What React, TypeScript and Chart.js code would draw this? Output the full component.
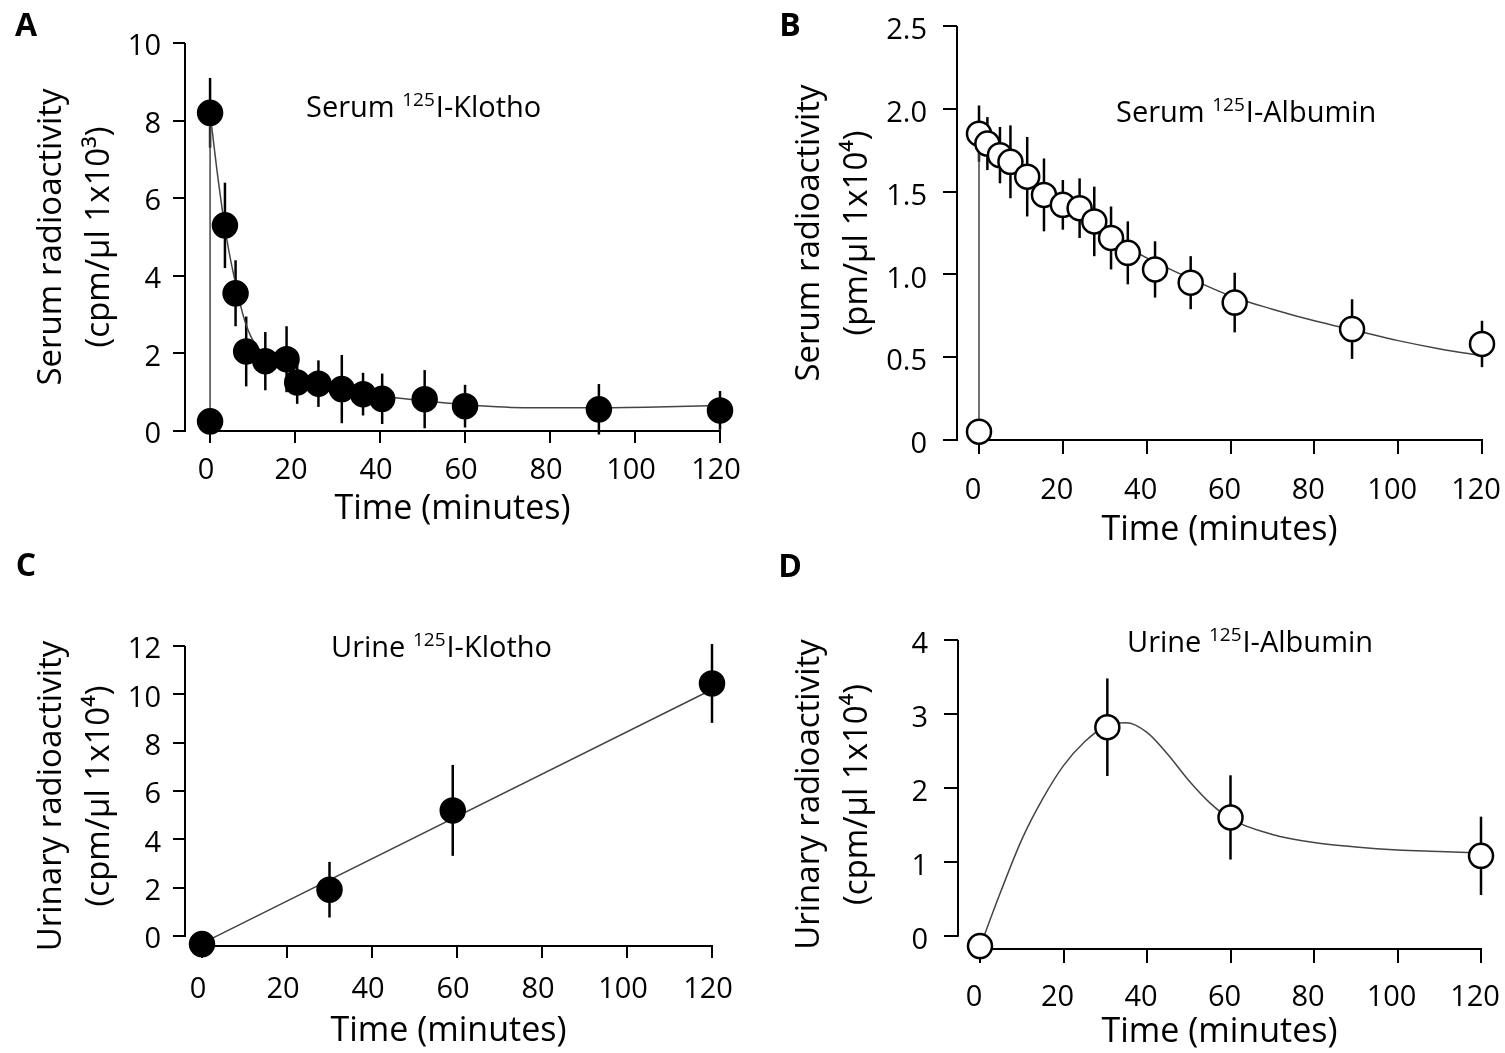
import React, { useEffect, useRef } from "react";
import { Chart, registerables } from "chart.js";

Chart.register(...registerables);

const FONT = "'Open Sans'";

// shared x ticks (minutes)
const timeTicks = [0, 20, 40, 60, 80, 100, 120];

// ---------- Panel A: Serum 125I-Klotho ----------
const timeA = [0, 0, 3.5, 6, 8.5, 13, 18, 20.5, 25.5, 31, 36, 40.5, 50.5, 60, 91.5, 120];
const serumKlotho = [0.25, 8.2, 5.3, 3.55, 2.05, 1.8, 1.85, 1.25, 1.22, 1.08, 0.95, 0.83, 0.82, 0.64, 0.56, 0.53];
const serumKlothoErr = [0, 0.9, 1.1, 0.85, 0.9, 0.75, 0.85, 0.55, 0.6, 0.88, 0.55, 0.65, 0.75, 0.55, 0.65, 0.5];
const riseTimeA = [0, 0];
const riseA = [0.25, 8.2];
const fitTimeA = [0, 2, 4, 6, 8, 10, 13, 16, 20, 25, 30, 35, 40, 50, 60, 75, 90, 105, 120];
const fitSerumKlotho = [8.2, 6.4, 4.9, 3.8, 2.9, 2.35, 1.95, 1.7, 1.45, 1.25, 1.1, 0.98, 0.9, 0.78, 0.68, 0.6, 0.6, 0.62, 0.66];
const yTicksA = [0, 2, 4, 6, 8, 10];
const yLabelsA = ["0", "2", "4", "6", "8", "10"];

// ---------- Panel B: Serum 125I-Albumin ----------
const timeB = [0, 0, 2, 5, 7.5, 11.5, 15.5, 20, 24, 27.5, 31.5, 35.5, 42, 50.5, 61, 89, 120];
const serumAlbumin = [0.05, 1.85, 1.79, 1.72, 1.68, 1.59, 1.48, 1.42, 1.4, 1.32, 1.22, 1.13, 1.03, 0.95, 0.83, 0.67, 0.58];
const serumAlbuminErr = [0, 0.17, 0.16, 0.17, 0.22, 0.24, 0.22, 0.15, 0.18, 0.21, 0.19, 0.19, 0.17, 0.16, 0.18, 0.18, 0.14];
const riseTimeB = [0, 0];
const riseB = [0.05, 1.78];
const fitTimeB = [0, 5, 10, 15, 20, 25, 30, 35, 40, 50, 60, 70, 80, 90, 100, 110, 120];
const fitSerumAlbumin = [1.78, 1.7, 1.6, 1.5, 1.42, 1.35, 1.26, 1.17, 1.1, 0.98, 0.87, 0.79, 0.72, 0.66, 0.6, 0.55, 0.51];
const yTicksB = [0, 0.5, 1, 1.5, 2, 2.5];
const yLabelsB = ["0", "0.5", "1.0", "1.5", "2.0", "2.5"];

// ---------- Panel C: Urine 125I-Klotho ----------
const timeC = [0, 30, 59, 120];
const urineKlotho = [-0.33, 1.92, 5.2, 10.45];
const urineKlothoErr = [0, 1.15, 1.88, 1.63];
const fitTimeC = [0, 120];
const fitUrineKlotho = [-0.3, 10.2];
const yTicksC = [0, 2, 4, 6, 8, 10, 12];
const yLabelsC = ["0", "2", "4", "6", "8", "10", "12"];

// ---------- Panel D: Urine 125I-Albumin ----------
const timeD = [0, 30.5, 60, 120];
const urineAlbumin = [-0.14, 2.82, 1.6, 1.08];
const urineAlbuminErr = [0, 0.66, 0.57, 0.53];
const fitTimeD = [0, 5, 10, 15, 20, 25, 30, 35, 40, 45, 50, 55, 60, 70, 80, 90, 100, 110, 120];
const fitUrineAlbumin = [-0.15, 0.6, 1.3, 1.85, 2.3, 2.62, 2.83, 2.88, 2.75, 2.45, 2.1, 1.8, 1.58, 1.37, 1.26, 1.2, 1.16, 1.14, 1.12];
const yTicksD = [0, 1, 2, 3, 4];
const yLabelsD = ["0", "1", "2", "3", "4"];

type Spec = {
  letter: string;
  letterPos: [number, number];
  annot: [string, string, string];
  annotPos: [number, number];
  yTitle: string[];
  xs: number[];
  ys: number[];
  err: number[];
  fitX: number[];
  fitY: number[];
  riseX?: number[];
  riseY?: number[];
  open: boolean;
  yTicks: number[];
  yLabels: string[];
  xMin: number;
  yMin: number;
  yMax: number;
  area: { left: number; right: number; top: number; bottom: number };
  yW: number;
  xH: number;
  yTickPad: number;
  xTickPad: number;
  tickLen: number;
  yLabelOffset: number;
  xLabelOffset: number;
};

const W = 1505;
const H = 1053;

const specs: Spec[] = [
  {
    letter: "A", letterPos: [26, 27],
    annot: ["Serum ", "125", "I-Klotho"], annotPos: [306, 109],
    yTitle: ["Serum radioactivity", "(cpm/\u00b5l 1x10\u00b3)"],
    xs: timeA, ys: serumKlotho, err: serumKlothoErr,
    fitX: fitTimeA, fitY: fitSerumKlotho, riseX: riseTimeA, riseY: riseA,
    open: false, yTicks: yTicksA, yLabels: yLabelsA,
    xMin: -5.9, yMin: 0, yMax: 10,
    area: { left: 185, right: 720, top: 43, bottom: 431 },
    yW: 185, xH: 99, yTickPad: 12, xTickPad: 10, tickLen: 12,
    yLabelOffset: 4, xLabelOffset: -4,
  },
  {
    letter: "B", letterPos: [790, 27],
    annot: ["Serum ", "125", "I-Albumin"], annotPos: [1116, 114],
    yTitle: ["Serum radioactivity", "(pm/\u00b5l 1x10\u2074)"],
    xs: timeB, ys: serumAlbumin, err: serumAlbuminErr,
    fitX: fitTimeB, fitY: fitSerumAlbumin, riseX: riseTimeB, riseY: riseB,
    open: true, yTicks: yTicksB, yLabels: yLabelsB,
    xMin: -5.25, yMin: 0, yMax: 2.5,
    area: { left: 957, right: 1482, top: 26, bottom: 440 },
    yW: 199, xH: 111, yTickPad: 16, xTickPad: 19, tickLen: 14,
    yLabelOffset: 5, xLabelOffset: -6,
  },
  {
    letter: "C", letterPos: [26, 567],
    annot: ["Urine ", "125", "I-Klotho"], annotPos: [331, 649],
    yTitle: ["Urinary radioactivity", "(cpm/\u00b5l 1x10\u2074)"],
    xs: timeC, ys: urineKlotho, err: urineKlothoErr,
    fitX: fitTimeC, fitY: fitUrineKlotho,
    open: false, yTicks: yTicksC, yLabels: yLabelsC,
    xMin: -4, yMin: -0.41, yMax: 12,
    area: { left: 185, right: 712, top: 646, bottom: 946 },
    yW: 185, xH: 106, yTickPad: 12, xTickPad: 14, tickLen: 12,
    yLabelOffset: 4, xLabelOffset: -4,
  },
  {
    letter: "D", letterPos: [790, 568],
    annot: ["Urine ", "125", "I-Albumin"], annotPos: [1127, 644],
    yTitle: ["Urinary radioactivity", "(cpm/\u00b5l 1x10\u2074)"],
    xs: timeD, ys: urineAlbumin, err: urineAlbuminErr,
    fitX: fitTimeD, fitY: fitUrineAlbumin,
    open: true, yTicks: yTicksD, yLabels: yLabelsD,
    xMin: -5.27, yMin: -0.18, yMax: 4,
    area: { left: 958, right: 1481, top: 640, bottom: 949 },
    yW: 200, xH: 104, yTickPad: 16, xTickPad: 17, tickLen: 14,
    yLabelOffset: 5, xLabelOffset: -6,
  },
];

function makePlugin(s: Spec) {
  return {
    id: "panelDecor" + s.letter,
    beforeDatasetsDraw(chart: any) {
      const { ctx, chartArea } = chart;
      const x = chart.scales.x;
      const y = chart.scales.y;
      ctx.save();
      ctx.strokeStyle = "#000";
      ctx.lineWidth = 2;
      ctx.beginPath();
      ctx.moveTo(chartArea.left, y.getPixelForValue(s.yTicks[0]) + 1);
      ctx.lineTo(chartArea.left, y.getPixelForValue(s.yTicks[s.yTicks.length - 1]));
      ctx.moveTo(x.getPixelForValue(timeTicks[0]), chartArea.bottom);
      ctx.lineTo(x.getPixelForValue(timeTicks[timeTicks.length - 1]) + 1, chartArea.bottom);
      ctx.stroke();
      ctx.lineWidth = 2.5;
      s.xs.forEach((xv, i) => {
        const e = s.err[i];
        if (!e) return;
        const px = x.getPixelForValue(xv);
        ctx.beginPath();
        ctx.moveTo(px, y.getPixelForValue(s.ys[i] - e));
        ctx.lineTo(px, y.getPixelForValue(s.ys[i] + e));
        ctx.stroke();
      });
      ctx.restore();
    },
    afterDraw(chart: any) {
      const { ctx } = chart;
      ctx.save();
      ctx.fillStyle = "#000";
      ctx.textBaseline = "middle";
      ctx.textAlign = "center";
      ctx.font = `bold 32px ${FONT}`;
      ctx.fillText(s.letter, s.letterPos[0], s.letterPos[1]);
      ctx.textAlign = "left";
      let ax = s.annotPos[0];
      const ay = s.annotPos[1];
      ctx.font = `29px ${FONT}`;
      ctx.fillText(s.annot[0], ax, ay);
      ax += ctx.measureText(s.annot[0]).width;
      ctx.font = `19px ${FONT}`;
      ctx.fillText(s.annot[1], ax, ay - 8);
      ax += ctx.measureText(s.annot[1]).width + 1;
      ctx.font = `29px ${FONT}`;
      ctx.fillText(s.annot[2], ax, ay);
      ctx.restore();
    },
  };
}

function zeroPad(sc: any) {
  sc.paddingLeft = 0;
  sc.paddingRight = 0;
  sc.paddingTop = 0;
  sc.paddingBottom = 0;
}

function Panel({ s }: { s: Spec }) {
  const ref = useRef<HTMLCanvasElement>(null);
  useEffect(() => {
    if (!ref.current) return;
    const datasets: any[] = [
      {
        label: "data",
        data: s.xs.map((t, i) => ({ x: t, y: s.ys[i] })),
        showLine: false,
        pointRadius: 12,
        pointBackgroundColor: s.open ? "#fff" : "#000",
        pointBorderColor: "#000",
        pointBorderWidth: 2.5,
        clip: false,
        order: 0,
      },
      {
        label: "fit",
        data: s.fitX.map((t, i) => ({ x: t, y: s.fitY[i] })),
        showLine: true,
        borderColor: "#444",
        borderWidth: 1.5,
        pointRadius: 0,
        cubicInterpolationMode: "monotone",
        clip: false,
        order: 1,
      },
    ];
    if (s.riseX && s.riseY) {
      datasets.push({
        label: "rise",
        data: s.riseX.map((t, i) => ({ x: t, y: s.riseY![i] })),
        showLine: true,
        borderColor: "#444",
        borderWidth: 1.5,
        pointRadius: 0,
        tension: 0,
        clip: false,
        order: 2,
      });
    }
    const chart = new Chart(ref.current, {
      type: "scatter",
      data: { datasets },
      options: {
        animation: false,
        responsive: false,
        maintainAspectRatio: false,
        devicePixelRatio: 1,
        events: [],
        layout: {
          autoPadding: false,
          padding: {
            left: s.area.left - s.yW,
            right: W - s.area.right,
            top: s.area.top,
            bottom: H - s.area.bottom - s.xH,
          },
        },
        plugins: { legend: { display: false }, tooltip: { enabled: false } },
        scales: {
          x: {
            type: "linear",
            min: s.xMin,
            max: 120,
            afterBuildTicks: (sc: any) => {
              sc.ticks = timeTicks.map((v) => ({ value: v }));
            },
            afterFit: (sc: any) => {
              sc.height = s.xH;
              zeroPad(sc);
            },
            border: { display: false },
            grid: { display: true, drawOnChartArea: false, drawTicks: true, tickLength: s.tickLen, color: "#000", lineWidth: 2 },
            ticks: {
              color: "#000",
              font: { family: FONT, size: 29 },
              padding: s.xTickPad,
              labelOffset: s.xLabelOffset,
              maxRotation: 0,
              autoSkip: false,
              callback: (v: any) => String(v),
            },
            title: {
              display: true,
              text: "Time (minutes)",
              color: "#000",
              font: { family: FONT, size: 34, lineHeight: 1.2 },
              padding: 0,
            },
          },
          y: {
            type: "linear",
            min: s.yMin,
            max: s.yMax,
            afterBuildTicks: (sc: any) => {
              sc.ticks = s.yTicks.map((v) => ({ value: v }));
            },
            afterFit: (sc: any) => {
              sc.width = s.yW;
              zeroPad(sc);
            },
            border: { display: false },
            grid: { display: true, drawOnChartArea: false, drawTicks: true, tickLength: s.tickLen, color: "#000", lineWidth: 2 },
            ticks: {
              color: "#000",
              font: { family: FONT, size: 29 },
              padding: s.yTickPad,
              labelOffset: s.yLabelOffset,
              autoSkip: false,
              callback: (_v: any, i: number) => s.yLabels[i],
            },
            title: {
              display: true,
              text: s.yTitle,
              color: "#000",
              font: { family: FONT, size: 33, lineHeight: 1.45 },
              padding: { top: 28, bottom: 0 },
            },
          },
        },
      },
      plugins: [makePlugin(s)],
    } as any);
    return () => chart.destroy();
  }, [s]);
  return (
    <canvas
      ref={ref}
      width={W}
      height={H}
      style={{ position: "absolute", left: 0, top: 0, width: W, height: H }}
    />
  );
}

export default function App() {
  return (
    <div style={{ position: "absolute", left: 0, top: 0, width: W, height: H, background: "#fff", overflow: "hidden" }}>
      {specs.map((s) => (
        <Panel key={s.letter} s={s} />
      ))}
    </div>
  );
}
